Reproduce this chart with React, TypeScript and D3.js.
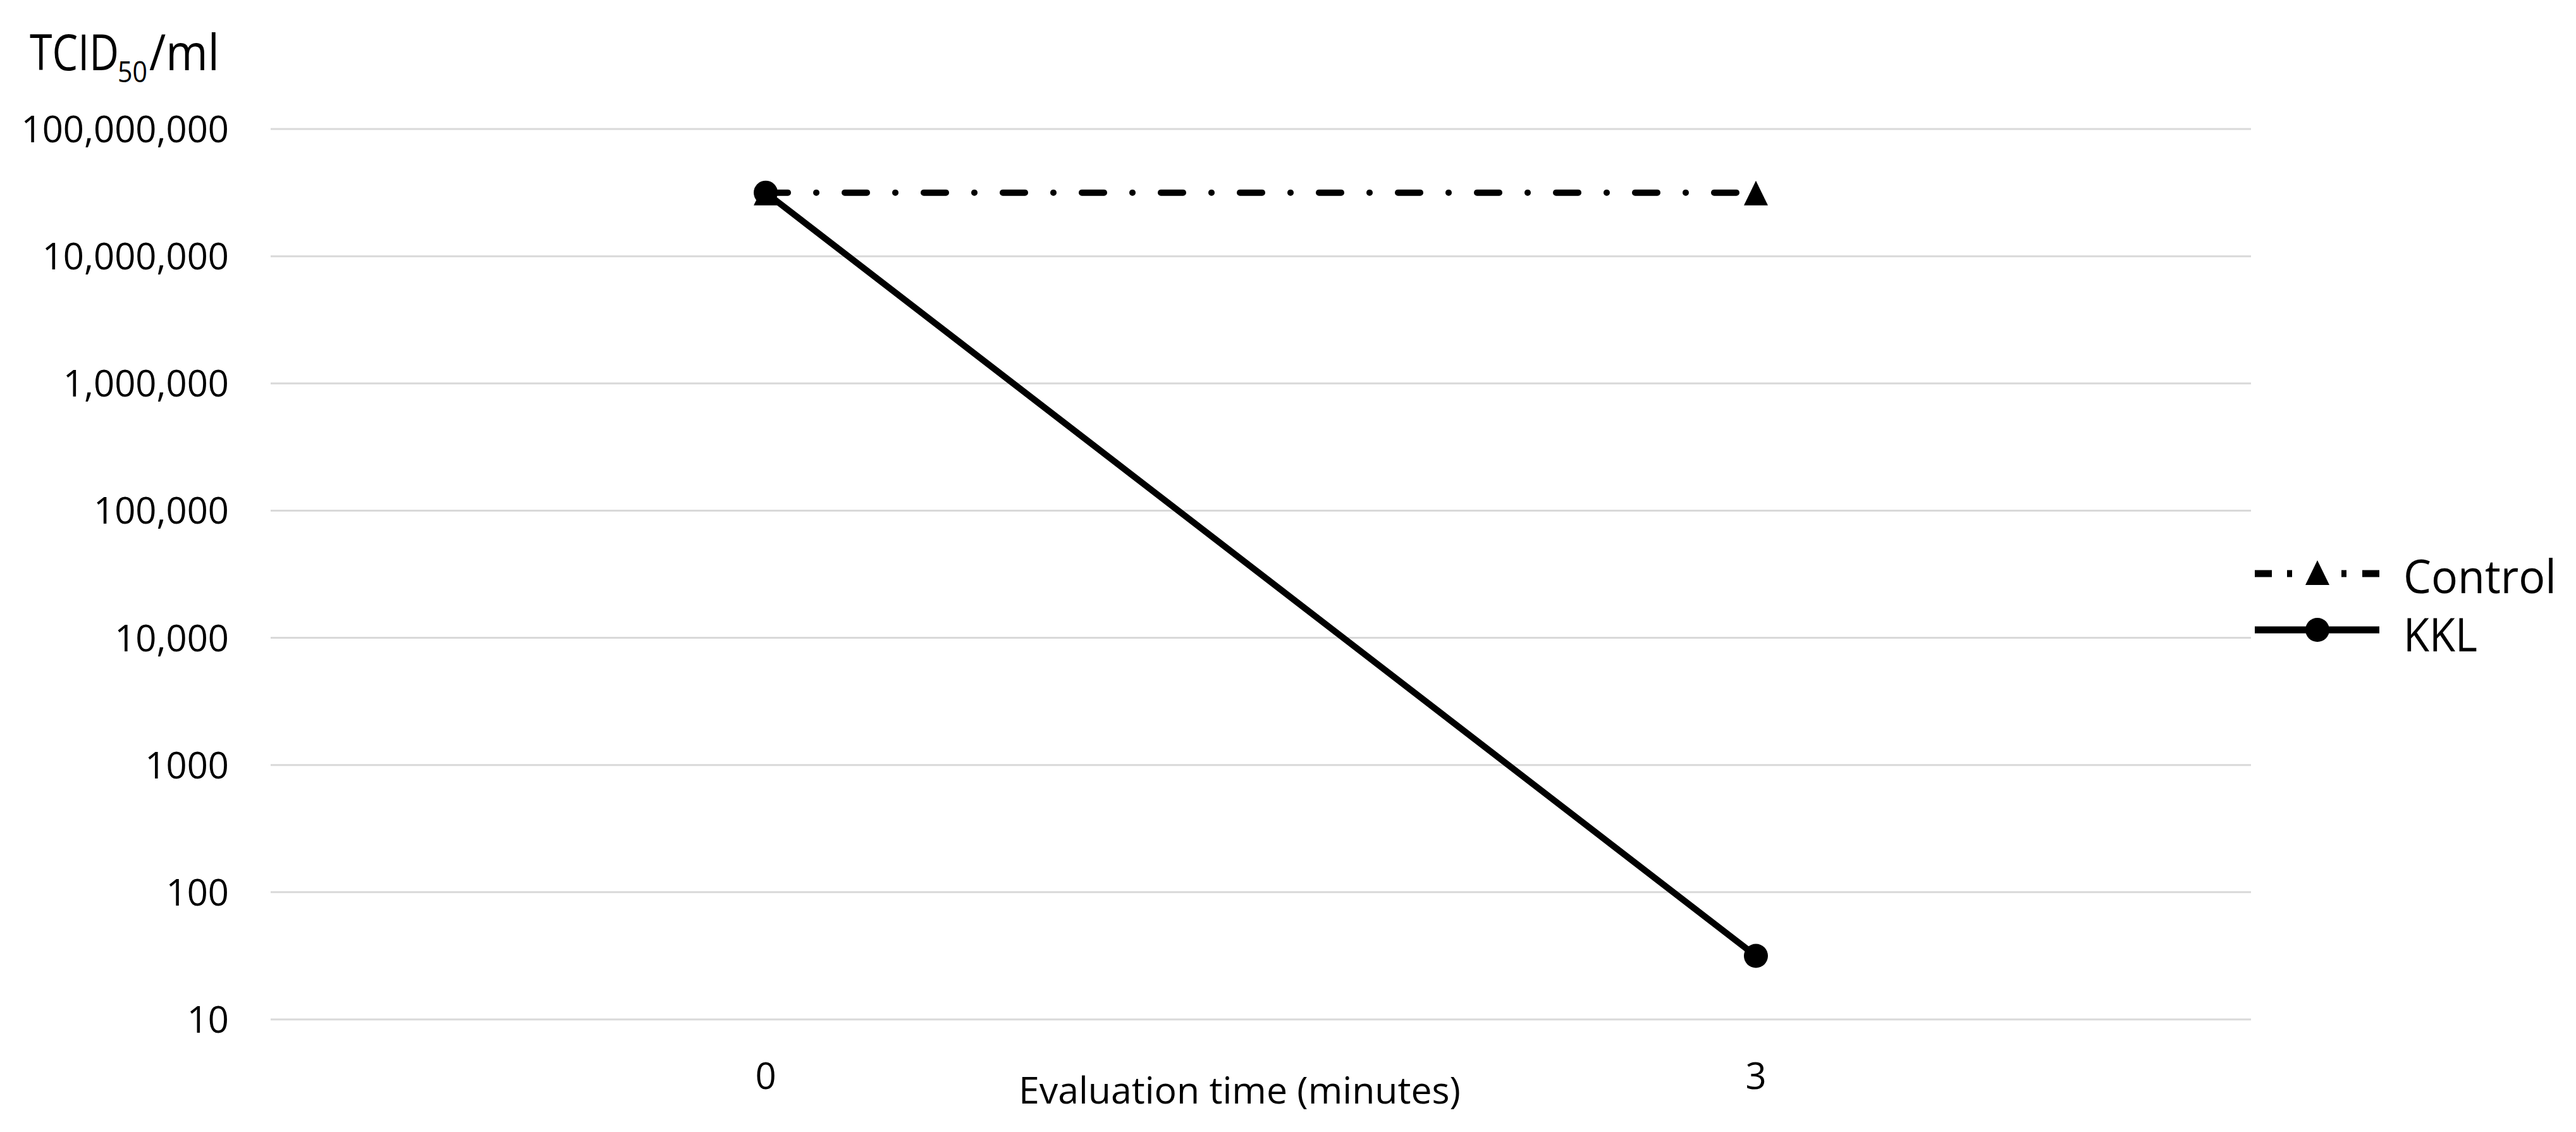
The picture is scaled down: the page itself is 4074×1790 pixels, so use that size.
import React from "react";
import * as d3 from "d3";

const categories = ["0", "3"];
const controlValues = [31600000, 31600000];
const kklValues = [31600000, 31.6];
const yTickValues = [10, 100, 1000, 10000, 100000, 1000000, 10000000, 100000000];
const yTickLabels = ["10", "100", "1000", "10,000", "100,000", "1,000,000", "10,000,000", "100,000,000"];
const seriesNames = ["Control", "KKL"];

const W = 4074;
const H = 1790;
const FONT = "'Open Sans', 'DejaVu Sans', sans-serif";

export default function App() {
  const x = d3.scaleBand<string>().domain(categories).range([428, 3560]).padding(0);
  const y = d3.scaleLog().domain([10, 100000000]).range([1612, 204]);
  const cx = (c: string) => (x(c) as number) + x.bandwidth() / 2;

  const line = d3
    .line<number>()
    .x((_, i) => cx(categories[i]))
    .y((d) => y(d));

  const tri = (px: number, py: number) =>
    `M${px},${py - 19}L${px + 19},${py + 20}L${px - 19},${py + 20}Z`;

  return (
    <svg
      width={W}
      height={H}
      viewBox={`0 0 ${W} ${H}`}
      style={{ position: "absolute", left: 0, top: 0, display: "block", background: "#fff" }}
      fontFamily={FONT}
    >
      <rect x={0} y={0} width={W} height={H} fill="#fff" />
      {/* gridlines */}
      {yTickValues.map((v) => (
        <line key={v} x1={428} x2={3560} y1={y(v)} y2={y(v)} stroke="#d9d9d9" strokeWidth={3} />
      ))}
      {/* y tick labels */}
      {yTickValues.map((v, i) => (
        <text key={"t" + v} x={362} y={y(v) + 21} textAnchor="end" fontSize={58} fill="#000">
          {yTickLabels[i]}
        </text>
      ))}
      {/* y title */}
      <text x={47} y={111} fontSize={78} fill="#000">
        <tspan x={47} textLength={141} lengthAdjust="spacingAndGlyphs">TCID</tspan>
        <tspan x={186} dy={19} fontSize={46} textLength={47} lengthAdjust="spacingAndGlyphs">50</tspan>
        <tspan x={236} dy={-19} textLength={111} lengthAdjust="spacingAndGlyphs">/ml</tspan>
      </text>
      {/* x tick labels */}
      {categories.map((c) => (
        <text key={"x" + c} x={cx(c)} y={1722} textAnchor="middle" fontSize={58} fill="#000">
          {c}
        </text>
      ))}
      {/* x title */}
      <text x={1611} y={1745} fontSize={58} fill="#000" textLength={699} lengthAdjust="spacingAndGlyphs">
        Evaluation time (minutes)
      </text>
      {/* Control series */}
      <path
        d={line(controlValues) || ""}
        fill="none"
        stroke="#000"
        strokeWidth={10}
        strokeLinecap="round"
        strokeDasharray="35 45 0 45"
      />
      {controlValues.map((v, i) => (
        <path key={"c" + i} d={tri(cx(categories[i]), y(v))} fill="#000" />
      ))}
      {/* KKL series */}
      <path d={line(kklValues) || ""} fill="none" stroke="#000" strokeWidth={10} />
      {kklValues.map((v, i) => (
        <circle key={"k" + i} cx={cx(categories[i])} cy={y(v)} r={19} fill="#000" />
      ))}
      {/* legend */}
      <line
        x1={3566}
        x2={3763}
        y1={907}
        y2={907}
        stroke="#000"
        strokeWidth={11}
        strokeDasharray="27 24 8 78 8 25 27"
      />
      <path d={tri(3665, 905)} fill="#000" />
      <text x={3801} y={938} fontSize={74} fill="#000" textLength={242} lengthAdjust="spacingAndGlyphs">
        {seriesNames[0]}
      </text>
      <line x1={3566} x2={3763} y1={996} y2={996} stroke="#000" strokeWidth={11} />
      <circle cx={3665} cy={996} r={19} fill="#000" />
      <text x={3801} y={1030} fontSize={74} fill="#000" textLength={117} lengthAdjust="spacingAndGlyphs">
        {seriesNames[1]}
      </text>
    </svg>
  );
}
